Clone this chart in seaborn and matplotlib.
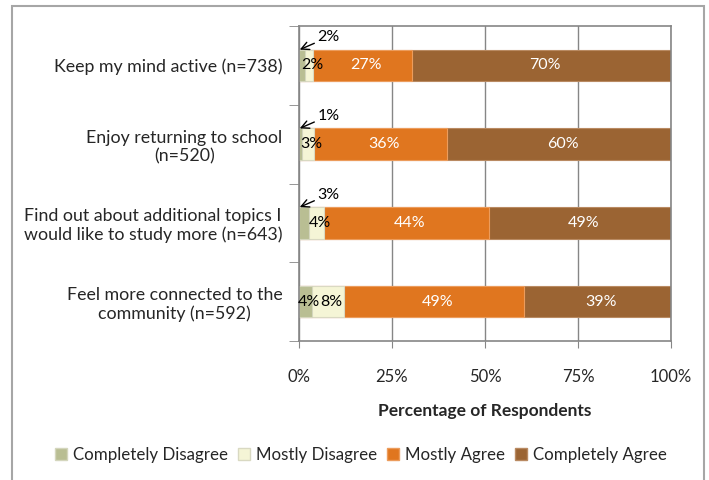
import numpy as np
import pandas as pd
import matplotlib
matplotlib.use('Agg')
import matplotlib.pyplot as plt
import matplotlib.patches as mpatches
import seaborn as sns

categories = ['Keep my mind active (n=738)',
              'Enjoy returning to school\n(n=520)',
              'Find out about additional topics I\nwould like to study more (n=643)',
              'Feel more connected to the\ncommunity (n=592)']
series = ['Completely Disagree', 'Mostly Disagree', 'Mostly Agree', 'Completely Agree']
completely_disagree = [1.6, 0.8, 2.7, 3.6]
mostly_disagree = [2.2, 3.2, 4.0, 8.4]
mostly_agree = [26.6, 35.9, 44.3, 48.6]
completely_agree = [69.6, 60.1, 49.0, 39.4]
labels_cd = ['2%', '1%', '3%', '4%']
labels_md = ['2%', '3%', '4%', '8%']
labels_ma = ['27%', '36%', '44%', '49%']
labels_ca = ['70%', '60%', '49%', '39%']

colors = ['#b9be93', '#f5f5d6', '#e0761f', '#9b6433']
edges = ['#d4d6bd', '#d9d9c2', '#ec9c5c', '#b98a62']

sns.set_style('white')
plt.rcParams['font.family'] = ['Lato', 'DejaVu Sans']

fig = plt.figure(figsize=(7.09, 4.8), dpi=100)
ax = fig.add_axes([299/709, 1-341/480, 372/709, 315/480])

vals = [completely_disagree, mostly_disagree, mostly_agree, completely_agree]
cum = np.cumsum(np.array(vals), axis=0)
# draw stacked bars back to front
for i in range(3, -1, -1):
    df = pd.DataFrame({'cat': categories, 'val': cum[i]})
    sns.barplot(data=df, x='val', y='cat', orient='h', color=colors[i],
                edgecolor=edges[i], linewidth=0.8, width=0.4, saturation=1, ax=ax)

ax.set_xlim(0, 100)
ax.set_ylim(3.5, -0.5)
ax.set_xticks([0, 25, 50, 75, 100])
ax.set_xticklabels(['0%', '25%', '50%', '75%', '100%'], fontsize=12)
ax.xaxis.grid(True, color='#868686', lw=1)
ax.set_axisbelow(True)
ax.set_ylabel('')
ax.set_xlabel('Percentage of Respondents', fontsize=12.5, fontweight='bold', labelpad=13)
ax.tick_params(axis='x', length=5, color='#868686', direction='out', pad=15, bottom=True)
ax.set_yticks(range(4))
ax.set_yticklabels(categories, fontsize=12.8, multialignment='center')
ax.tick_params(axis='y', which='major', length=0, pad=12)
ax.set_yticks([-0.5, 0.5, 1.5, 2.5, 3.5], minor=True)
ax.tick_params(axis='y', which='minor', length=7, color='#868686', direction='out', left=True)
for s in ax.spines.values():
    s.set_color('#868686')
    s.set_linewidth(1.2)

# value labels
starts = cum - np.array(vals)
all_labels = [labels_cd, labels_md, labels_ma, labels_ca]
for i in range(4):
    for j in range(4):
        v = vals[i][j]
        xc = starts[i][j] + v / 2
        col = 'white' if i >= 2 else 'black'
        if i == 0 and v < 3.5:
            ax.annotate(all_labels[i][j], xy=(0.2, j - 0.2), xytext=(5.0, j - 0.36),
                        fontsize=11.5, ha='left', va='center', color='black',
                        arrowprops=dict(arrowstyle='->', color='black', lw=1,
                                        shrinkA=0, shrinkB=0, mutation_scale=14))
        else:
            ax.text(xc + 1.0, j, all_labels[i][j], ha='center', va='center',
                    fontsize=11.5, color=col)

handles = [mpatches.Patch(facecolor=colors[i], edgecolor=edges[i], label=series[i]) for i in range(4)]
fig.legend(handles=handles, loc='center', bbox_to_anchor=(361/709, 1-455/480), ncol=4,
           frameon=False, fontsize=12.2, handlelength=0.7, handleheight=0.7,
           handletextpad=0.35, columnspacing=0.6)

fig.patches.append(mpatches.Rectangle((12/709, -0.05), 692/709, 1.05-6/480, transform=fig.transFigure,
                                      fill=False, edgecolor='#a6a6a6', lw=1.5))

fig.savefig('out.png', dpi=100)
